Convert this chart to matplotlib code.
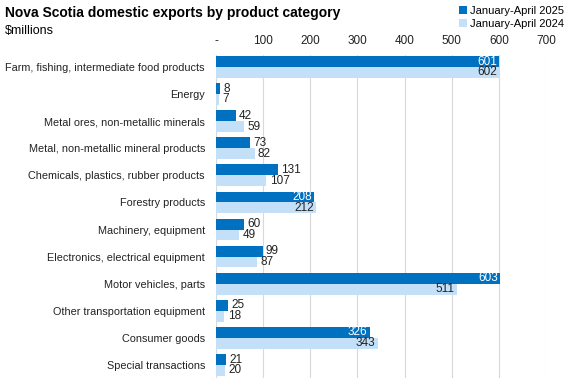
import numpy as np
import matplotlib
matplotlib.use("Agg")
import matplotlib.pyplot as plt

categories = [
    "Farm, fishing, intermediate food products",
    "Energy",
    "Metal ores, non-metallic minerals",
    "Metal, non-metallic mineral products",
    "Chemicals, plastics, rubber products",
    "Forestry products",
    "Machinery, equipment",
    "Electronics, electrical equipment",
    "Motor vehicles, parts",
    "Other transportation equipment",
    "Consumer goods",
    "Special transactions",
]
jan_apr_2025 = [601, 8, 42, 73, 131, 208, 60, 99, 603, 25, 326, 21]
jan_apr_2024 = [602, 7, 59, 82, 107, 212, 49, 87, 511, 18, 343, 20]
x_ticks = [0, 100, 200, 300, 400, 500, 600, 700]
x_tick_labels = ["-", "100", "200", "300", "400", "500", "600", "700"]

dark = "#0070C0"
light = "#C3E0F8"
plt.rcParams["font.family"] = ["Liberation Sans", "DejaVu Sans"]

fig = plt.figure(figsize=(5.77, 3.85), dpi=100)
ax = fig.add_axes([216 / 577, 1 - 378 / 385, 330 / 577, 323 / 385])

pos = np.arange(len(categories))
h = 0.4
ax.barh(pos - h / 2, jan_apr_2025, height=h, color=dark, label="January-April 2025", zorder=2)
ax.barh(pos + h / 2, jan_apr_2024, height=h, color=light, label="January-April 2024", zorder=2)

for i, (a, b) in enumerate(zip(jan_apr_2025, jan_apr_2024)):
    for v, y, inside_col in ((a, i - h / 2, "white"), (b, i + h / 2, "#222222")):
        if v > 150:
            ax.text(v - 5, y, str(v), ha="right", va="center", fontsize=8.5,
                    color=inside_col, zorder=3)
        else:
            ax.text(v + 7, y, str(v), ha="left", va="center", fontsize=8.5,
                    color="#222222", zorder=3)

ax.set_xlim(0, 700)
ax.set_ylim(11.48, -0.44)
ax.set_xticks(x_ticks)
ax.set_xticklabels(x_tick_labels, fontsize=8.5, color="#222222")
ax.xaxis.tick_top()
ax.tick_params(axis="x", length=0, pad=6)
ax.set_yticks(pos)
ax.set_yticklabels(categories, fontsize=7.8, color="#222222")
ax.tick_params(axis="y", length=0, pad=8)
ax.grid(axis="x", color="#D9D9D9", linewidth=0.8, zorder=0)
ax.axvline(0, color="#D9D9D9", linewidth=0.8, zorder=1)
for s in ax.spines.values():
    s.set_visible(False)

fig.text(5 / 577, 1 - 13 / 385, "Nova Scotia domestic exports by product category",
         fontsize=10, fontweight="bold", va="center", ha="left")
fig.text(5 / 577, 1 - 31 / 385, "\\$millions", fontsize=9, va="center", ha="left")

fig.legend(loc="upper right", bbox_to_anchor=(0.995, 1.01), frameon=False, fontsize=8,
           handlelength=0.7, handleheight=0.7, handletextpad=0.3, labelspacing=0.25)

fig.savefig("out.png", dpi=100)
